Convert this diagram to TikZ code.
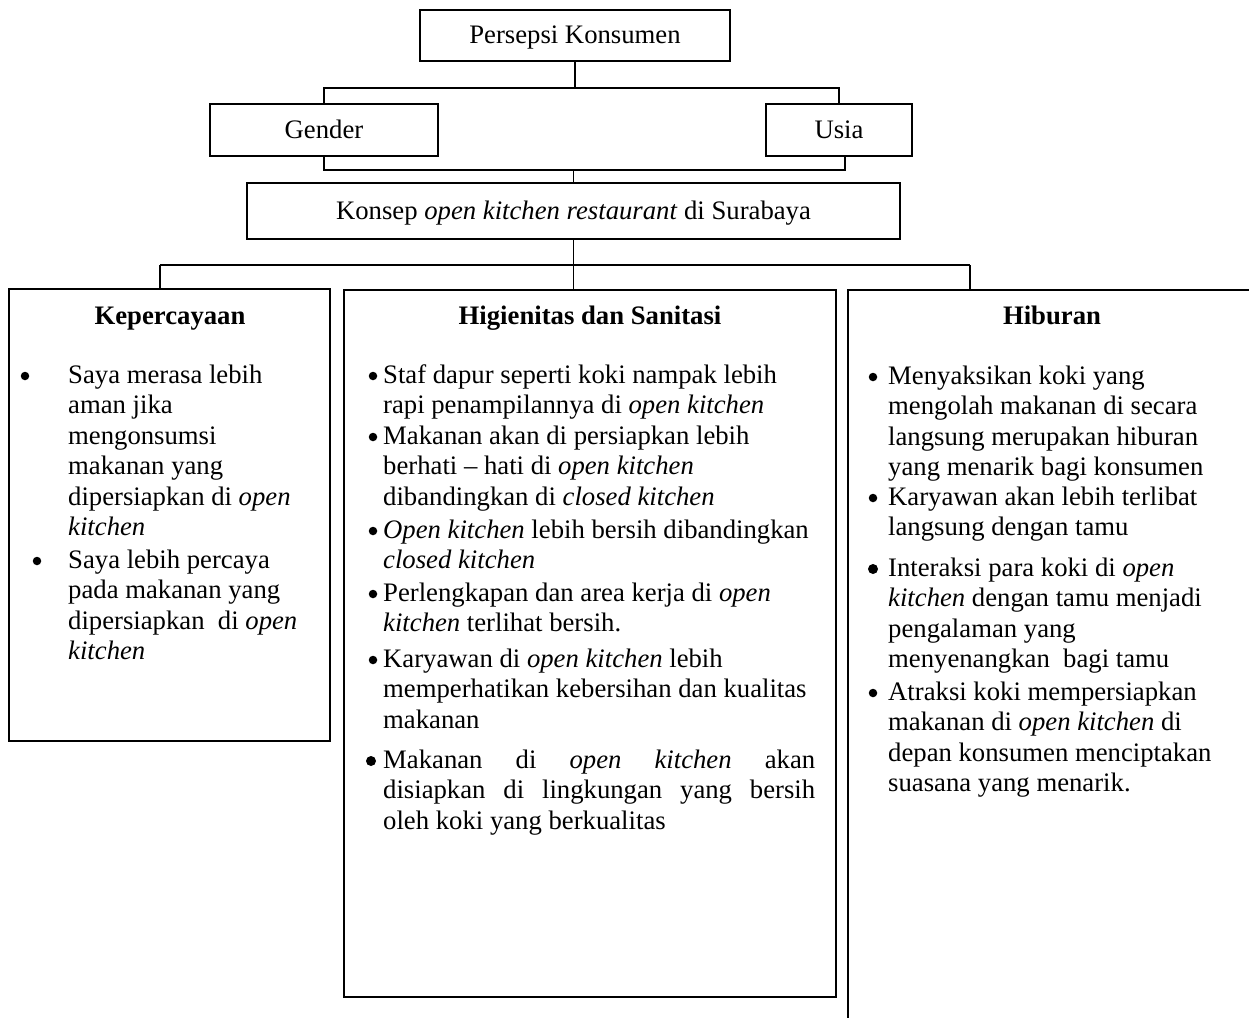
\documentclass[tikz,border=0pt]{standalone}
\usepackage{fontspec}
\setmainfont{Liberation Serif}
\newcommand\bodyfont{\fontsize{26.7pt}{30.5pt}\selectfont}
\begin{document}
\begin{tikzpicture}[x=1pt,y=-1pt,
  box/.style={draw, line width=1.8pt, inner sep=0pt, font=\bodyfont, align=center, text height=22pt, text depth=6pt},
  conn/.style={line width=1.8pt},
  ttl/.style={anchor=base, inner sep=0pt, font=\bodyfont\bfseries},
  bul/.style={circle, fill=black, draw=none, inner sep=0pt, minimum size=8.5pt, yshift=7pt},
  itemtxt/.style={anchor=north west, inner sep=0pt, align=left, font=\bodyfont, yshift=21.35pt}]

\fill[white] (0,0) rectangle (1249,1018);
\useasboundingbox (0,0) rectangle (1249,1018);

% top nodes
\node[box, minimum width=310pt, minimum height=51pt] (P) at (575,35.5) {Persepsi Konsumen};
\node[box, minimum width=228pt, minimum height=52pt] (G) at (324,130) {Gender};
\node[box, minimum width=146pt, minimum height=52pt] (U) at (839,130) {Usia};
\node[box, minimum width=653pt, minimum height=56pt] (C) at (573.5,211) {Konsep \textit{open kitchen restaurant} di Surabaya};

% category boxes
\node[box, minimum width=321pt, minimum height=452pt] (K) at (169.5,515) {};
\node[box, minimum width=492pt, minimum height=707pt] (H) at (590,643.5) {};
\node[draw=none, inner sep=0pt, minimum width=401pt, minimum height=728pt, anchor=north west] (R) at (848,290) {};
\draw[conn] (R.north east) -- (R.north west) -- (R.south west);

% connectors
\draw[conn] (P.south) -- ++(0,26) coordinate (j1);
\draw[conn] (G.north) |- (j1) -| (U.north);
\coordinate (j2) at (573.5,170);
\draw[conn] (G.south) |- (j2) -| ([xshift=6pt]U.south);
\draw[conn] (j2) -- (C.north);
\draw[conn] (C.south) -- ++(0,26) coordinate (j3);
\coordinate (kL) at (160,265);
\coordinate (kR) at (970,265);
\draw[conn] (kL) -- (kR);
\draw[conn] (kL) -- (kL |- K.north);
\draw[conn] (j3) -- (j3 |- H.north);
\draw[conn] (kR) -- (kR |- R.north);

% titles
\node[ttl] (tK) at (170,324) {Kepercayaan};
\node[ttl] (tH) at (590,324) {Higienitas dan Sanitasi};
\node[ttl] (tR) at (1052,324) {Hiburan};

% Kepercayaan items
\node[bul] (kb1) at (25,383) {};
\node[itemtxt] (ki1) at (68,383) {\strut Saya merasa lebih\\aman jika\\mengonsumsi\\makanan yang\\dipersiapkan di \textit{open}\\\textit{kitchen}};
\node[bul] (kb2) at (37,568) {};
\node[itemtxt] (ki2) at (68,568) {\strut Saya lebih percaya\\pada makanan yang\\dipersiapkan\ \ di \textit{open}\\\textit{kitchen}};

% Higienitas items
\node[bul] (hb1) at (373,383) {};
\node[itemtxt] (hi1) at (383,383) {\strut Staf dapur seperti koki nampak lebih\\rapi penampilannya di \textit{open kitchen}};
\node[bul] (hb2) at (373,444) {};
\node[itemtxt] (hi2) at (383,444) {\strut Makanan akan di persiapkan lebih\\berhati -- hati di \textit{open kitchen}\\dibandingkan di \textit{closed kitchen}};
\node[bul] (hb3) at (373,538) {};
\node[itemtxt] (hi3) at (383,538) {\strut\textit{Open kitchen} lebih bersih dibandingkan\\\textit{closed kitchen}};
\node[bul] (hb4) at (373,601) {};
\node[itemtxt] (hi4) at (383,601) {\strut Perlengkapan dan area kerja di \textit{open}\\\textit{kitchen} terlihat bersih.};
\node[bul] (hb5) at (373,667) {};
\node[itemtxt] (hi5) at (383,667) {\strut Karyawan di \textit{open kitchen} lebih\\memperhatikan kebersihan dan kualitas\\makanan};
\node[bul, minimum size=10pt] (hb6) at (371,768) {};
\node[itemtxt] (hi6) at (383,768) {\strut\makebox[432pt][s]{Makanan di \textit{open kitchen} akan}\\\makebox[432pt][s]{disiapkan di lingkungan yang bersih}\\oleh koki yang berkualitas};

% Hiburan items
\node[bul] (rb1) at (873,384) {};
\node[itemtxt] (ri1) at (888,384) {\strut Menyaksikan koki yang\\mengolah makanan di secara\\langsung merupakan hiburan\\yang menarik bagi konsumen};
\node[bul] (rb2) at (873,505) {};
\node[itemtxt] (ri2) at (888,505) {\strut Karyawan akan lebih terlibat\\langsung dengan tamu};
\node[bul, minimum size=10pt] (rb3) at (873,576) {};
\node[itemtxt] (ri3) at (888,576) {\strut Interaksi para koki di \textit{open}\\\textit{kitchen} dengan tamu menjadi\\pengalaman yang\\menyenangkan\ \ bagi tamu};
\node[bul] (rb4) at (873,700) {};
\node[itemtxt] (ri4) at (888,700) {\strut Atraksi koki mempersiapkan\\makanan di \textit{open kitchen} di\\depan konsumen menciptakan\\suasana yang menarik.};

\end{tikzpicture}
\end{document}
